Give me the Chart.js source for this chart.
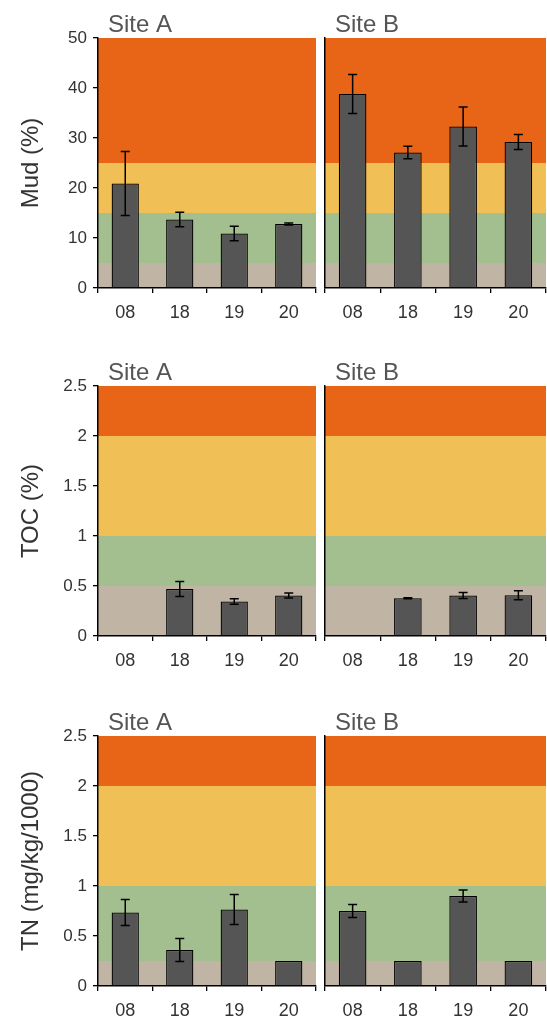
<!DOCTYPE html>
<html>
<head>
<meta charset="utf-8">
<script src="https://cdn.jsdelivr.net/npm/chart.js@4.4.1/dist/chart.umd.min.js"></script>
<style>
  html, body { margin: 0; padding: 0; background: #fff; width: 547px; height: 1018px; overflow: hidden; }
  .box { position: absolute; }
</style>
</head>
<body>
<div class="box" id="b0"><canvas id="c0"></canvas></div>
<div class="box" id="b1"><canvas id="c1"></canvas></div>
<div class="box" id="b2"><canvas id="c2"></canvas></div>
<div class="box" id="b3"><canvas id="c3"></canvas></div>
<div class="box" id="b4"><canvas id="c4"></canvas></div>
<div class="box" id="b5"><canvas id="c5"></canvas></div>
<script>
// ---------- data ----------
const categories = ['08', '18', '19', '20'];
const siteTitles = ['Site A', 'Site B'];

const mudA    = [20.9, 13.7, 10.9, 12.8];
const mudAErr = [6.4, 1.45, 1.45, 0.2];
const mudB    = [38.8, 27.1, 32.3, 29.2];
const mudBErr = [3.9, 1.25, 3.9, 1.5];

const tocA    = [null, 0.47, 0.345, 0.405];
const tocAErr = [null, 0.075, 0.028, 0.025];
const tocB    = [null, 0.378, 0.405, 0.407];
const tocBErr = [null, 0.005, 0.03, 0.045];

const tnA    = [0.735, 0.36, 0.765, 0.25];
const tnAErr = [0.13, 0.115, 0.15, null];
const tnB    = [0.75, 0.25, 0.9, 0.25];
const tnBErr = [0.065, null, 0.06, null];

const mudBands = [0, 5, 15, 25, 50];
const tocBands = [0, 0.5, 1, 2, 2.5];
const tnBands  = [0, 0.25, 1, 2, 2.5];
const bandColors = ['#c0b5a5', '#a3bf8f', '#f0bf56', '#e86417'];

const mudTicks = [0, 10, 20, 30, 40, 50];
const nutTicks = [0, 0.5, 1, 1.5, 2, 2.5];

const yTitles = ['Mud (%)', 'TOC (%)', 'TN (mg/kg/1000)'];

// ---------- plugins ----------
const bandPlugin = {
  id: 'bands',
  beforeDraw(chart, args, opts) {
    const { ctx, chartArea: a, scales: { y } } = chart;
    const b = opts.bands;
    ctx.save();
    for (let i = 0; i < b.length - 1; i++) {
      const y1 = y.getPixelForValue(b[i + 1]);
      const y0 = y.getPixelForValue(b[i]);
      ctx.fillStyle = opts.colors[i];
      ctx.fillRect(a.left, y1, a.right - a.left, y0 - y1);
    }
    ctx.restore();
  }
};

const errPlugin = {
  id: 'errbars',
  afterDatasetsDraw(chart, args, opts) {
    const { ctx, scales: { y } } = chart;
    const meta = chart.getDatasetMeta(0);
    const vals = chart.data.datasets[0].data;
    const errs = opts.errors;
    ctx.save();
    ctx.strokeStyle = '#000';
    ctx.lineWidth = 1.5;
    for (let i = 0; i < vals.length; i++) {
      if (vals[i] == null || errs[i] == null) continue;
      const x = meta.data[i].x;
      const yt = y.getPixelForValue(vals[i] + errs[i]);
      const yb = y.getPixelForValue(vals[i] - errs[i]);
      const hw = 4.5;
      ctx.beginPath();
      ctx.moveTo(x, yt); ctx.lineTo(x, yb);
      ctx.moveTo(x - hw, yt); ctx.lineTo(x + hw, yt);
      ctx.moveTo(x - hw, yb); ctx.lineTo(x + hw, yb);
      ctx.stroke();
    }
    ctx.restore();
  }
};

const titlePlugin = {
  id: 'panelTitle',
  afterDraw(chart, args, opts) {
    const { ctx, chartArea: a } = chart;
    ctx.save();
    ctx.font = '24px "Liberation Sans", Arial, sans-serif';
    ctx.fillStyle = '#555';
    ctx.textBaseline = 'alphabetic';
    ctx.textAlign = 'left';
    ctx.fillText(opts.text, a.left + 10, a.top - 6);
    ctx.restore();
  }
};

// ---------- layout ----------
const FONT = '"Liberation Sans", Arial, sans-serif';
const rowTops = [0, 348, 698];
const CH = 322;          // canvas height
const TOPPAD = 38;
const XAXIS_H = 34;
const leftW = 321, rightX = 321, rightW = 226;

const rows = [
  { a: mudA, aErr: mudAErr, b: mudB, bErr: mudBErr, bands: mudBands, max: 50, ticks: mudTicks },
  { a: tocA, aErr: tocAErr, b: tocB, bErr: tocBErr, bands: tocBands, max: 2.5, ticks: nutTicks },
  { a: tnA,  aErr: tnAErr,  b: tnB,  bErr: tnBErr,  bands: tnBands,  max: 2.5, ticks: nutTicks }
];

function makeChart(idx, row, rowIdx, side) {
  const isLeft = side === 0;
  const box = document.getElementById('b' + idx);
  box.style.left = (isLeft ? 0 : rightX) + 'px';
  box.style.top = rowTops[rowIdx] + 'px';
  box.style.width = (isLeft ? leftW : rightW) + 'px';
  box.style.height = CH + 'px';
  const vals = isLeft ? row.a : row.b;
  const errs = isLeft ? row.aErr : row.bErr;
  const tickVals = row.ticks;

  new Chart(document.getElementById('c' + idx), {
    type: 'bar',
    data: {
      labels: categories,
      datasets: [{
        data: vals,
        backgroundColor: '#555555',
        borderColor: '#000000',
        borderWidth: 1.3,
        barPercentage: 0.5,
        categoryPercentage: 1.0
      }]
    },
    options: {
      responsive: true,
      maintainAspectRatio: false,
      animation: false,
      events: [],
      layout: { padding: { top: TOPPAD, right: isLeft ? 5 : 1, left: 0, bottom: 0 } },
      plugins: {
        legend: { display: false },
        tooltip: { enabled: false },
        bands: { bands: row.bands, colors: bandColors },
        errbars: { errors: errs },
        panelTitle: { text: siteTitles[side] }
      },
      scales: {
        x: {
          type: 'category',
          offset: true,
          grid: { display: true, drawOnChartArea: false, drawTicks: true, tickLength: 5, color: '#000', lineWidth: 1.3, offset: true },
          border: { display: true, color: '#000', width: 1.5 },
          ticks: { color: '#333', font: { family: FONT, size: 18 }, padding: 9, maxRotation: 0, autoSkip: false },
          afterFit(s) { s.height = XAXIS_H; }
        },
        y: {
          min: 0,
          max: row.max,
          afterBuildTicks(s) { s.ticks = tickVals.map(v => ({ value: v })); },
          grid: { display: true, drawOnChartArea: false, drawTicks: isLeft, tickLength: 5, color: '#000', lineWidth: 1.3 },
          border: { display: true, color: '#000', width: 1.5 },
          ticks: {
            display: isLeft,
            color: '#333',
            font: { family: FONT, size: 17 },
            padding: 6,
            callback: (v) => String(+(+v).toFixed(2))
          },
          title: {
            display: isLeft,
            text: yTitles[rowIdx],
            color: '#333',
            font: { family: FONT, size: 24 },
            padding: { top: 17, bottom: 0 }
          },
          afterFit(s) { s.width = isLeft ? 98 : 4; }
        }
      }
    },
    plugins: [bandPlugin, errPlugin, titlePlugin]
  });
}

let k = 0;
rows.forEach((row, r) => {
  makeChart(k++, row, r, 0);
  makeChart(k++, row, r, 1);
});
</script>
</body>
</html>
